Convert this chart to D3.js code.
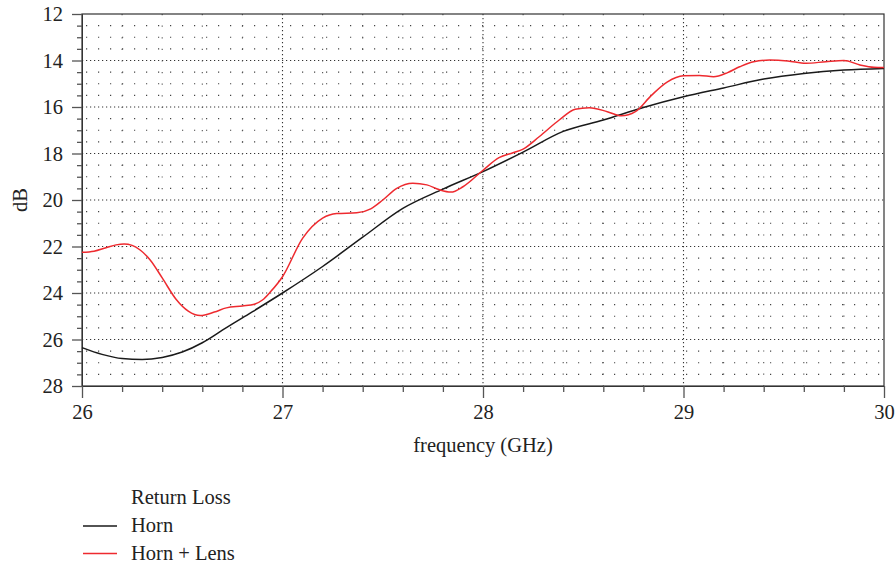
<!DOCTYPE html>
<html><head><meta charset="utf-8">
<script src="https://cdn.jsdelivr.net/npm/d3@7"></script>
<style>body{margin:0;background:#fff}svg{display:block}</style>
</head><body><svg id="c" width="896" height="567"></svg>
<script>
const hornFreq = [26.0,26.1,26.2,26.3,26.4,26.5,26.6,26.7,26.8,27.0,27.2,27.4,27.6,27.8,28.0,28.2,28.4,28.6,28.8,29.0,29.2,29.4,29.6,29.8,30.0];
const hornDB   = [26.35,26.64,26.82,26.86,26.77,26.54,26.14,25.6,25.07,24.0,22.86,21.6,20.36,19.53,18.78,17.94,17.05,16.56,16.02,15.56,15.18,14.8,14.56,14.41,14.34];
const lensFreq = [26.00,26.06,26.12,26.17,26.21,26.25,26.29,26.34,26.40,26.47,26.53,26.59,26.66,26.72,26.80,26.86,26.90,26.94,27.00,27.10,27.20,27.27,27.37,27.44,27.50,27.57,27.65,27.72,27.78,27.84,27.90,28.00,28.08,28.15,28.20,28.28,28.38,28.46,28.53,28.62,28.69,28.76,28.84,28.92,29.00,29.08,29.15,29.22,29.28,29.35,29.43,29.52,29.61,29.71,29.80,29.88,29.95,30.00];
const lensDB   = [22.25,22.20,22.05,21.93,21.89,21.95,22.15,22.58,23.35,24.28,24.78,24.97,24.82,24.64,24.56,24.48,24.30,23.95,23.30,21.65,20.78,20.58,20.55,20.38,20.00,19.50,19.28,19.35,19.55,19.66,19.43,18.72,18.18,17.97,17.81,17.28,16.56,16.10,16.03,16.20,16.38,16.20,15.50,14.92,14.66,14.64,14.70,14.52,14.27,14.05,13.98,14.02,14.12,14.05,14.00,14.19,14.29,14.30];
const xTicks = [26,27,28,29,30];
const yTicks = [12,14,16,18,20,22,24,26,28];
const seriesNames = ["Horn","Horn + Lens"];
const legendTitle = "Return Loss";

const FONT = '"Liberation Serif"';
const FS = 20.5;
const svg = d3.select("#c").attr("font-family", FONT);
const m = {l:82, t:14, r:12, b:181};
const W = 896 - m.l - m.r, H = 567 - m.t - m.b;
const x = d3.scaleLinear().domain([26,30]).range([m.l, m.l+W]);
const y = d3.scaleLinear().domain([12,28]).range([m.t, m.t+H]);

const minorX = d3.range(26.2, 30, 0.2).filter(v => Math.abs(v - Math.round(v)) > 0.01);
const minorY = d3.range(12.5, 28, 0.5).filter(v => Math.abs(v/2 - Math.round(v/2)) > 0.01);
const majorX = [27,28,29];
const majorY = [14,16,18,20,22,24,26];

const g = svg.append("g");
g.selectAll(".hy").data(minorY).join("line")
  .attr("x1", m.l).attr("x2", m.l+W).attr("y1", d=>y(d)).attr("y2", d=>y(d))
  .attr("stroke","#444").attr("stroke-width",1.1).attr("stroke-dasharray","1.2 10.8").attr("stroke-dashoffset",-4);
g.selectAll(".hY").data(majorY).join("line")
  .attr("x1", m.l).attr("x2", m.l+W).attr("y1", d=>y(d)).attr("y2", d=>y(d))
  .attr("stroke","#333").attr("stroke-width",1.1).attr("stroke-dasharray","1.2 2.8");
g.selectAll(".vx").data(minorX).join("line")
  .attr("y1", m.t).attr("y2", m.t+H).attr("x1", d=>x(d)).attr("x2", d=>x(d))
  .attr("stroke","#555").attr("stroke-width",1.1).attr("stroke-dasharray","1.2 10.4");
g.selectAll(".vX").data(majorX).join("line")
  .attr("y1", m.t).attr("y2", m.t+H).attr("x1", d=>x(d)).attr("x2", d=>x(d))
  .attr("stroke","#333").attr("stroke-width",1.1).attr("stroke-dasharray","1.2 2.8");

g.append("rect").attr("x", m.l).attr("y", m.t).attr("width", W).attr("height", H)
  .attr("fill","none").attr("stroke","#333").attr("stroke-width",1.2);

function styleText(sel){ sel.attr("font-size",FS).attr("font-family",FONT).attr("fill","#222"); }

const yAxis = d3.axisLeft(y).tickValues(yTicks).tickSize(10).tickPadding(9).tickFormat(d3.format("d"));
const ya = svg.append("g").attr("transform",`translate(${m.l},0)`).call(yAxis)
  .attr("font-family",FONT).attr("font-size",FS);
ya.select(".domain").attr("stroke","#333");
ya.selectAll(".tick line").attr("stroke","#555").attr("stroke-width",1.3);
ya.selectAll(".tick text").call(styleText);
const yMinor = d3.axisLeft(y).tickValues(minorY).tickSize(5).tickFormat("");
const yam = svg.append("g").attr("transform",`translate(${m.l},0)`).call(yMinor);
yam.select(".domain").remove();
yam.selectAll(".tick line").attr("stroke","#555").attr("stroke-width",1.3);

const xAxis = d3.axisBottom(x).tickValues(xTicks).tickSize(12).tickPadding(6).tickFormat(d3.format("d"));
const xa = svg.append("g").attr("transform",`translate(0,${m.t+H})`).call(xAxis)
  .attr("font-family",FONT).attr("font-size",FS);
xa.select(".domain").attr("stroke","#333");
xa.selectAll(".tick line").attr("stroke","#555").attr("stroke-width",1.3);
xa.selectAll(".tick text").call(styleText);
const xMinor = d3.axisBottom(x).tickValues(minorX).tickSize(6).tickFormat("");
const xam = svg.append("g").attr("transform",`translate(0,${m.t+H})`).call(xMinor);
xam.select(".domain").remove();
xam.selectAll(".tick line").attr("stroke","#555").attr("stroke-width",1.3);

svg.append("text").call(styleText).attr("x", 483).attr("y", 452).attr("text-anchor","middle")
  .text("frequency (GHz)");
svg.append("text").call(styleText).attr("transform",`translate(27,200) rotate(-90)`).attr("text-anchor","middle")
  .text("dB");

const line = d3.line().x(d=>x(d[0])).y(d=>y(d[1])).curve(d3.curveMonotoneX);
const hornData = hornFreq.map((f,i)=>[f, hornDB[i]]);
const lensData = lensFreq.map((f,i)=>[f, lensDB[i]]);
const colors = ["#1a1a1a","#ee2a2f"];
svg.append("path").datum(hornData).attr("d", line).attr("fill","none").attr("stroke",colors[0]).attr("stroke-width",1.5);
svg.append("path").datum(lensData).attr("d", line).attr("fill","none").attr("stroke",colors[1]).attr("stroke-width",1.5);

svg.append("text").call(styleText).attr("x",131).attr("y",504).text(legendTitle);
seriesNames.forEach((n,i)=>{
  const yy = 526 + i*27.5;
  svg.append("line").attr("x1",83).attr("x2",117).attr("y1",yy).attr("y2",yy).attr("stroke",colors[i]).attr("stroke-width",1.3);
  svg.append("text").call(styleText).attr("x",131).attr("y",yy+6).text(n);
});
</script></body></html>
